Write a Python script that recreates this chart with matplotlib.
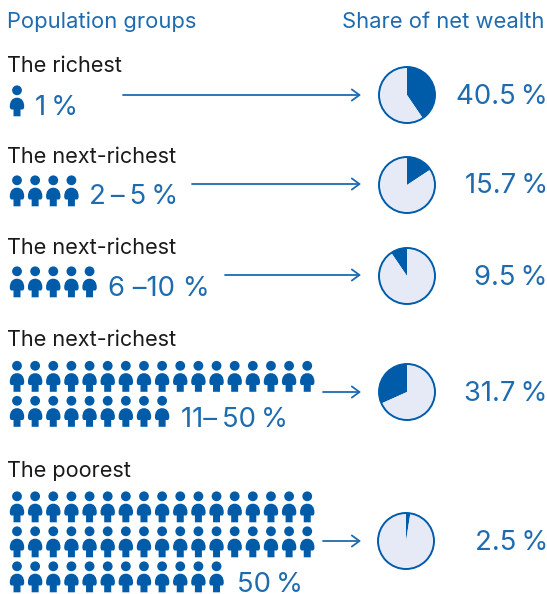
import matplotlib
matplotlib.use("Agg")
import matplotlib.pyplot as plt
from matplotlib.patches import Circle, PathPatch
from matplotlib.path import Path

# valeurs
groups = ["The richest", "The next-richest", "The next-richest", "The next-richest", "The poorest"]
pop_labels = ["1\u202f%", "2\u202f–\u202f5\u202f%", "6 –10 %", "11–\u202f50\u202f%", "50\u202f%"]
shares = [40.5, 15.7, 9.5, 31.7, 2.5]
share_labels = ["40.5\u202f%", "15.7\u202f%", "9.5\u202f%", "31.7\u202f%", "2.5\u202f%"]
icon_rows = [[1], [4], [5], [17, 9], [17, 17, 12]]
clockwise = [True, True, False, False, True]

# mise en page, en pixels depuis le haut de l'image
W, H = 547, 594
title_base = [71.7, 162.7, 254, 345.5, 476.7]
row_y = [[107], [197], [288], [382.5, 417.5], [513, 548, 583]]
label_x = [35, 89, 108, 181, 237]
label_base = [115, 204.5, 296, 427, 592]
arrow_x = [123, 192, 225, 323, 323]
arrow_y = [95, 184, 275, 392, 541]
pie_x = [407, 407, 407, 407, 406]
pie_y = [95, 185, 276, 392, 541]
val_base = [104, 193.3, 285, 401, 550]

ARROW_END = 361
BLUE = "#005CA9"
TEXT_BLUE = "#1E6BB0"
LIGHT = "#E6EAF7"
FONT = ["Inter", "DejaVu Sans"]

fig = plt.figure(figsize=(W / 100, H / 100), dpi=100)
ax = fig.add_axes([0, 0, 1, 1])


def py(y):
    return H - y


def person(cx, cy):
    # cy = milieu du corps, la tete est au dessus
    ax.add_patch(Circle((cx, py(cy - 16.7)), 4.9, fc=BLUE, ec="none"))
    shape = [(-3.5, 9.3), (-3.5, 2.5), (-5.5, 2.5), (-7.2, 2.5), (-7.2, -0.5), (-7.2, -6), (-4.5, -9.3), (0, -9.3),
             (4.5, -9.3), (7.2, -6), (7.2, -0.5), (7.2, 2.5), (5.5, 2.5), (3.5, 2.5), (3.5, 9.3), (-3.5, 9.3)]
    codes = [Path.MOVETO, Path.LINETO, Path.LINETO, Path.CURVE3, Path.CURVE3, Path.CURVE4, Path.CURVE4, Path.CURVE4,
             Path.CURVE4, Path.CURVE4, Path.CURVE4, Path.CURVE3, Path.CURVE3, Path.LINETO, Path.LINETO, Path.CLOSEPOLY]
    verts = [(cx + a, py(cy + b)) for a, b in shape]
    ax.add_patch(PathPatch(Path(verts, codes), fc=BLUE, ec="none"))


ax.text(7, py(28.3), "Population groups", color=TEXT_BLUE, fontsize=15.8, family=FONT, va="baseline")
ax.text(544, py(28.3), "Share of net wealth", color=TEXT_BLUE, fontsize=15.8, family=FONT, va="baseline", ha="right")

for i in range(len(groups)):
    ax.text(7, py(title_base[i]), groups[i], color="#1a1a1a", fontsize=15.6, family=FONT, va="baseline")
    for n, y in zip(icon_rows[i], row_y[i]):
        for k in range(n):
            person(17 + k * 18.14, y)
    ax.text(label_x[i], py(label_base[i]), pop_labels[i], color=TEXT_BLUE, fontsize=19.8, family=FONT, va="baseline")
    ax.annotate("", xy=(ARROW_END, py(arrow_y[i])), xytext=(arrow_x[i], py(arrow_y[i])),
                arrowprops=dict(arrowstyle="->,head_length=0.55,head_width=0.4", color=TEXT_BLUE, lw=1.3,
                                shrinkA=0, shrinkB=0))
    ax.pie([shares[i], 100 - shares[i]], colors=[BLUE, LIGHT], center=(pie_x[i], py(pie_y[i])), radius=28,
           startangle=90, counterclock=not clockwise[i], frame=True)
    ax.add_patch(Circle((pie_x[i], py(pie_y[i])), 28, fc="none", ec=BLUE, lw=1.4))
    ax.text(548, py(val_base[i]), share_labels[i], color=TEXT_BLUE, fontsize=19.8, family=FONT, va="baseline",
            ha="right")

ax.set_xlim(0, W)
ax.set_ylim(0, H)
ax.set_aspect("auto")
ax.set_axis_off()
fig.savefig("out.png", dpi=100)
